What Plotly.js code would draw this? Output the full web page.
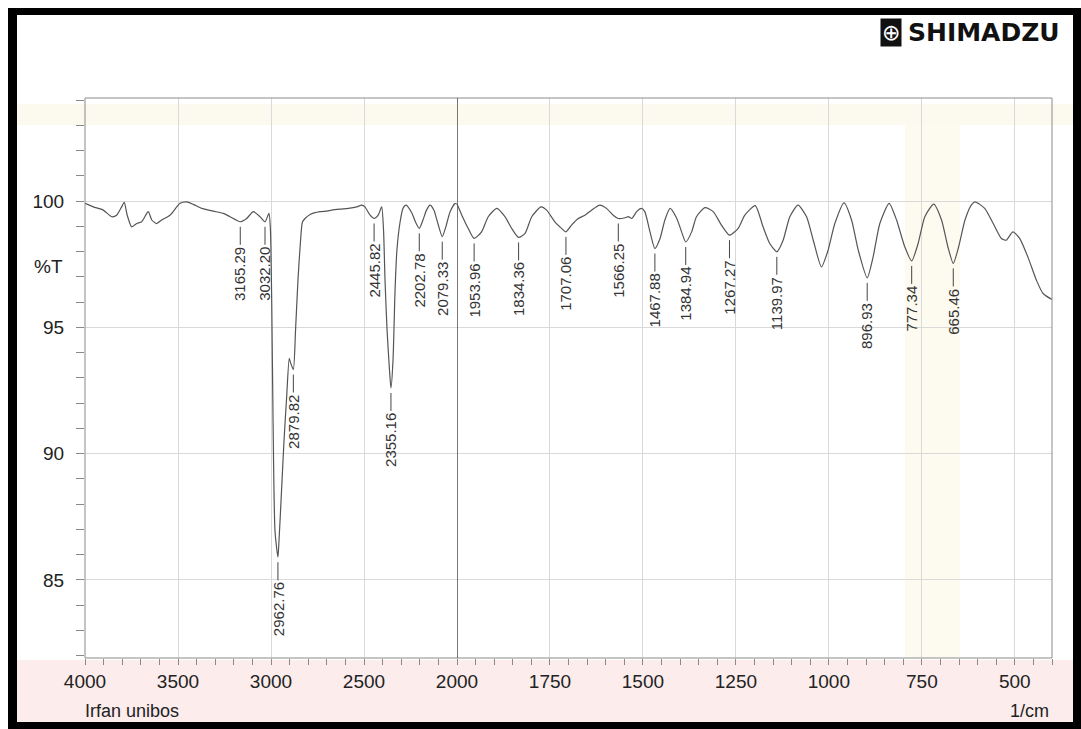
<!DOCTYPE html>
<html>
<head>
<meta charset="utf-8">
<script src="https://cdn.plot.ly/plotly-3.0.1.min.js"></script>
<style>html,body{margin:0;padding:0;background:#fff;}</style>
</head>
<body>
<div id="chart" style="width:1081px;height:729px;"></div>
<script>
// IR spectrum, %T against wavenumber (1/cm); the scale changes at 2000 1/cm
const waveHigh = [4000, 3955, 3902, 3856, 3830, 3803, 3789, 3773, 3749, 3722, 3695, 3660, 3641, 3615, 3588, 3543, 3489, 3453, 3418, 3373, 3310, 3256, 3220, 3165.29, 3131, 3095, 3059, 3032.20, 3011, 3003, 2996, 2989, 2978.5, 2962.76, 2957, 2946, 2930, 2916, 2902, 2895, 2879.82, 2868, 2855, 2841, 2831, 2817, 2790, 2737, 2700, 2674, 2629, 2584, 2539, 2512, 2495, 2468, 2445.82, 2423, 2405, 2395, 2387, 2376, 2363, 2355.16, 2344, 2333, 2323, 2306, 2290, 2274, 2242, 2223, 2202.78, 2183, 2164, 2145, 2124, 2102, 2079.33, 2059, 2038, 2011, 2000];
const transHigh = [99.91, 99.77, 99.64, 99.38, 99.44, 99.77, 99.95, 99.44, 98.98, 99.11, 99.18, 99.58, 99.25, 99.11, 99.25, 99.44, 99.91, 99.97, 99.87, 99.71, 99.60, 99.51, 99.38, 99.18, 99.31, 99.58, 99.38, 99.18, 99.51, 98.85, 95.95, 91.31, 86.94, 85.90, 86.55, 88.13, 90.52, 92.22, 93.77, 93.60, 93.33, 94.89, 96.87, 98.45, 99.17, 99.31, 99.47, 99.58, 99.60, 99.64, 99.68, 99.71, 99.77, 99.84, 99.77, 99.45, 99.31, 99.45, 99.77, 98.85, 96.87, 94.89, 93.31, 92.60, 93.70, 96.48, 98.06, 99.17, 99.72, 99.84, 99.52, 99.17, 98.92, 99.25, 99.64, 99.84, 99.64, 99.09, 98.59, 99.01, 99.56, 99.90, 99.88];

const waveLow = [2000, 1987, 1970, 1953.96, 1934, 1916, 1893, 1871, 1853, 1834.36, 1817, 1799, 1774, 1759, 1737, 1719, 1707.06, 1692, 1674, 1656, 1638, 1616, 1598, 1580, 1566.25, 1548, 1539, 1530, 1517, 1504, 1495, 1481, 1467.88, 1454, 1441, 1427, 1409, 1396, 1384.94, 1369, 1356, 1333, 1311, 1289, 1267.27, 1244, 1226, 1198, 1177, 1159, 1139.97, 1123, 1105, 1083, 1060, 1042, 1020, 1002, 984, 959, 939, 921, 896.93, 881, 863, 838, 818, 796, 777.34, 760, 742, 718, 697, 680, 665.46, 651, 634, 617, 607, 581, 558, 536, 523, 505, 487, 465, 442, 424, 400];
const transLow = [99.88, 99.44, 98.92, 98.52, 98.78, 99.38, 99.71, 99.38, 98.92, 98.56, 98.72, 99.38, 99.77, 99.64, 99.18, 98.92, 98.78, 99.05, 99.31, 99.44, 99.64, 99.84, 99.71, 99.44, 99.31, 99.34, 99.38, 99.31, 99.58, 99.71, 99.58, 98.78, 98.12, 98.52, 99.25, 99.71, 99.31, 98.78, 98.38, 98.78, 99.38, 99.74, 99.58, 99.05, 98.65, 98.92, 99.44, 99.82, 98.98, 98.32, 97.99, 98.45, 99.38, 99.84, 99.38, 98.45, 97.39, 98.06, 99.11, 99.93, 99.25, 98.06, 96.96, 97.79, 99.11, 99.91, 99.25, 98.19, 97.63, 98.32, 99.38, 99.88, 99.25, 98.19, 97.53, 98.19, 99.25, 99.84, 99.97, 99.71, 99.11, 98.52, 98.45, 98.78, 98.52, 97.79, 96.87, 96.34, 96.10];

// labelled absorption bands
const peaksHigh = [3165.29, 3032.20, 2962.76, 2879.82, 2445.82, 2355.16, 2202.78, 2079.33];
const peaksLow = [1953.96, 1834.36, 1707.06, 1566.25, 1467.88, 1384.94, 1267.27, 1139.97, 896.93, 777.34, 665.46];

const ticksHigh = [4000, 3500, 3000, 2500, 2000];
const ticksLow = [1750, 1500, 1250, 1000, 750, 500];
const ticksT = [85, 90, 95, 100];

// page geometry (pixels)
const W = 1081, H = 729;
const M = {l: 85, r: 29, t: 98, b: 71};
const plotW = W - M.l - M.r, plotH = H - M.t - M.b;
const px = v => (v - M.l) / plotW;        // page x -> paper x
const py = v => (H - M.b - v) / plotH;    // page y -> paper y
const splitFrac = 372 / plotW;            // width share of the 4000–2000 section

const FONT = 'Liberation Sans, Arial, sans-serif';
const lineCol = '#555555';
const gridCol = '#d9d9d9';
const axisCol = '#8a8a8a';

const traces = [
  {x: waveHigh, y: transHigh, xaxis: 'x', yaxis: 'y', type: 'scatter', mode: 'lines',
   line: {color: lineCol, width: 1.2, shape: 'spline', smoothing: 0.6}, hoverinfo: 'x+y'},
  {x: waveLow, y: transLow, xaxis: 'x2', yaxis: 'y', type: 'scatter', mode: 'lines',
   line: {color: lineCol, width: 1.2, shape: 'spline', smoothing: 0.6}, hoverinfo: 'x+y'}
];

// peak tags: a short tick a few pixels under the band, then the value reading upwards
function peakNotes(peaks, waves, trans, xref) {
  return peaks.map(w => ({
    x: w, y: trans[waves.indexOf(w)], xref: xref, yref: 'y',
    text: w.toFixed(2), textangle: -90, showarrow: false,
    font: {family: FONT, size: 15, color: '#333'},
    yanchor: 'top', xanchor: 'center', yshift: -24, borderpad: 0
  }));
}
function peakTicks(peaks, waves, trans, xref) {
  return peaks.map(w => ({
    type: 'line', xref: xref, yref: 'y', ysizemode: 'pixel',
    yanchor: trans[waves.indexOf(w)], y0: -5, y1: -23, x0: w, x1: w,
    line: {color: '#444', width: 1}
  }));
}

const annotations = [
  ...peakNotes(peaksHigh, waveHigh, transHigh, 'x'),
  ...peakNotes(peaksLow, waveLow, transLow, 'x2'),
  {text: '%T', xref: 'paper', yref: 'y', x: px(48), y: 97.4, showarrow: false,
   font: {family: FONT, size: 19, color: '#222'}, xanchor: 'center', yanchor: 'middle'},
  {text: 'Irfan unibos', xref: 'paper', yref: 'paper', x: px(83), y: py(711), showarrow: false,
   font: {family: FONT, size: 18, color: '#222'}, xanchor: 'left', yanchor: 'middle'},
  {text: '1/cm', xref: 'paper', yref: 'paper', x: px(1051), y: py(711), showarrow: false,
   font: {family: FONT, size: 18, color: '#222'}, xanchor: 'right', yanchor: 'middle'},
  {text: 'SHIMADZU', xref: 'paper', yref: 'paper', x: px(906), y: py(33), showarrow: false,
   font: {family: 'DejaVu Sans, sans-serif', size: 25, color: '#111', weight: 'bold'},
   xanchor: 'left', yanchor: 'middle'},
  {text: '⊕', xref: 'paper', yref: 'paper', x: px(891), y: py(33), showarrow: false,
   font: {family: 'DejaVu Sans, sans-serif', size: 22, color: '#fff'},
   bgcolor: '#111', borderpad: 1, xanchor: 'center', yanchor: 'middle'}
];

const shapes = [
  // faint page tints behind the plot
  {type: 'rect', xref: 'paper', yref: 'paper', x0: px(17), x1: px(1073), y0: py(722), y1: py(660),
   fillcolor: '#fcecec', line: {width: 0}, layer: 'below'},
  {type: 'rect', xref: 'paper', yref: 'paper', x0: px(17), x1: px(1073), y0: py(125), y1: py(104),
   fillcolor: '#fcf9ee', line: {width: 0}, layer: 'below'},
  {type: 'rect', xref: 'paper', yref: 'paper', x0: px(905), x1: px(960), y0: py(658), y1: py(125),
   fillcolor: '#fdfbef', line: {width: 0}, layer: 'below'},
  // plot frame
  {type: 'rect', xref: 'paper', yref: 'paper', x0: 0, x1: 1, y0: 0, y1: 1,
   line: {color: axisCol, width: 1}, fillcolor: 'rgba(0,0,0,0)'},
  // section divider at 2000 1/cm
  {type: 'line', xref: 'x2', yref: 'paper', x0: 2000, x1: 2000, y0: 0, y1: 1,
   line: {color: '#555', width: 1.6}},
  ...peakTicks(peaksHigh, waveHigh, transHigh, 'x'),
  ...peakTicks(peaksLow, waveLow, transLow, 'x2'),
  // black page border
  {type: 'rect', xref: 'paper', yref: 'paper', x0: px(8), x1: px(1081), y0: py(8), y1: py(15),
   fillcolor: '#000', line: {width: 0}},
  {type: 'rect', xref: 'paper', yref: 'paper', x0: px(8), x1: px(1081), y0: py(722), y1: py(729),
   fillcolor: '#000', line: {width: 0}},
  {type: 'rect', xref: 'paper', yref: 'paper', x0: px(8), x1: px(17), y0: py(8), y1: py(729),
   fillcolor: '#000', line: {width: 0}},
  {type: 'rect', xref: 'paper', yref: 'paper', x0: px(1073), x1: px(1081), y0: py(8), y1: py(729),
   fillcolor: '#000', line: {width: 0}}
];

const xCommon = {
  type: 'linear', showline: false, zeroline: false,
  showgrid: true, gridcolor: gridCol, gridwidth: 1,
  ticks: 'outside', ticklen: 6, tickwidth: 1, tickcolor: axisCol,
  tickfont: {family: FONT, size: 19, color: '#222'},
  anchor: 'y', fixedrange: true
};

const layout = {
  width: W, height: H,
  margin: M,
  paper_bgcolor: '#ffffff', plot_bgcolor: 'rgba(0,0,0,0)',
  showlegend: false,
  xaxis: Object.assign({}, xCommon, {
    domain: [0, splitFrac], range: [4000, 2000],
    tickmode: 'array', tickvals: ticksHigh,
    minor: {dtick: 100, ticks: 'outside', ticklen: 6, tickcolor: axisCol, showgrid: false}
  }),
  xaxis2: Object.assign({}, xCommon, {
    domain: [splitFrac, 1], range: [2000, 400],
    tickmode: 'array', tickvals: ticksLow,
    minor: {dtick: 50, ticks: 'outside', ticklen: 6, tickcolor: axisCol, showgrid: false}
  }),
  yaxis: {
    range: [81.91, 104.08], showline: false, zeroline: false,
    showgrid: true, gridcolor: gridCol, gridwidth: 1,
    tickmode: 'array', tickvals: ticksT,
    ticks: 'outside', ticklen: 8, tickcolor: axisCol, ticklabelstandoff: 8,
    tickfont: {family: FONT, size: 19, color: '#222'},
    minor: {dtick: 1, ticks: 'outside', ticklen: 8, tickcolor: axisCol, showgrid: false},
    anchor: 'x', fixedrange: true
  },
  annotations: annotations,
  shapes: shapes
};

Plotly.newPlot('chart', traces, layout, {displayModeBar: false, staticPlot: true});
</script>
</body>
</html>
